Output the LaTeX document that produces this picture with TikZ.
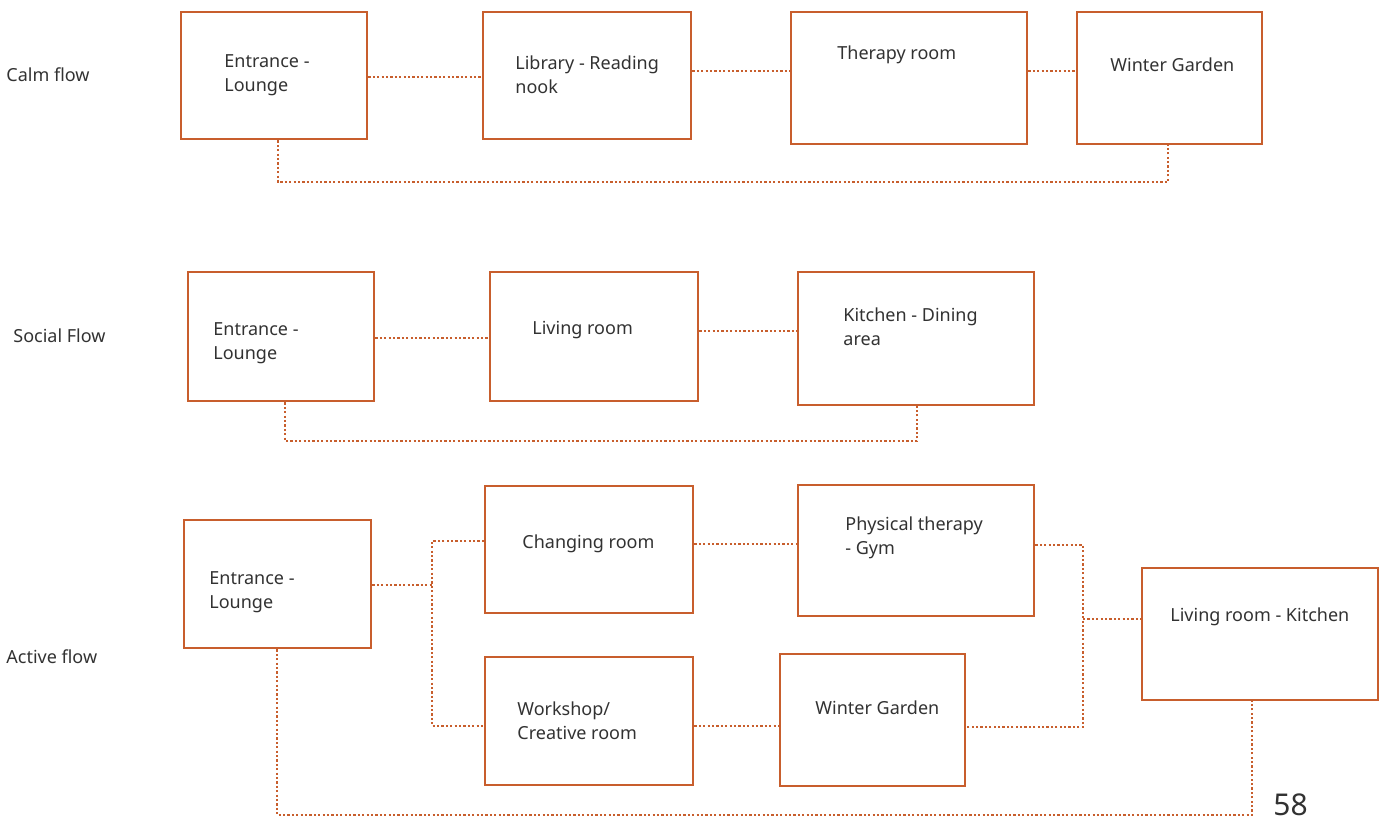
\documentclass[tikz,border=0pt]{standalone}
\usepackage{fontspec}
\setmainfont{Noto Sans}
\definecolor{flowline}{RGB}{200,94,45}
\definecolor{inktext}{RGB}{50,50,50}
\tikzset{
    room/.style n args={2}{draw=flowline,line width=1.2pt,anchor=north west,
        minimum width=#1*0.5pt,minimum height=#2*0.5pt,inner sep=0pt},
    roomtext/.style={anchor=west,align=left,inner sep=0pt,text=inktext,
        font=\fontsize{9pt}{12pt}\selectfont},
    flowlabel/.style={roomtext},
    link/.style={draw=flowline,line width=1.3pt,dash pattern=on 1.1pt off 1.1pt}
}
\begin{document}
\begin{tikzpicture}[x=0.5pt,y=-0.5pt]
    \useasboundingbox (0,0) rectangle (1386,817);
    % calm flow
    \node[flowlabel] (calm) at (6,75) {Calm flow};
    \node[room={186}{127}] (c1) at (180,11) {};
    \node[room={208}{127}] (c2) at (482,11) {};
    \node[room={236}{132}] (c3) at (790,11) {};
    \node[room={185}{132}] (c4) at (1076,11) {};
    \node[roomtext] (c1t) at (224,75) {Entrance -\\Lounge};
    \node[roomtext] (c2t) at (515,75) {Library - Reading\\nook};
    \node[roomtext] (c3t) at (837,55) {Therapy room};
    \node[roomtext] (c4t) at (1110,65) {Winter Garden};
    \coordinate (cbot) at (1168,182);
    \draw[link] (c1.east |- 0,77) -- (c2.west |- 0,77);
    \draw[link] (c2.east |- 0,71) -- (c3.west |- 0,71);
    \draw[link] (c3.east |- 0,71) -- (c4.west |- 0,71);
    \draw[link] (c1.south -| 278,0) |- (cbot) -- (c4.south -| cbot);
    % social flow
    \node[flowlabel] (social) at (13,336) {Social Flow};
    \node[room={186}{129}] (s1) at (187,271) {};
    \node[room={208}{129}] (s2) at (489,271) {};
    \node[room={236}{133}] (s3) at (797,271) {};
    \node[roomtext] (s1t) at (213,343) {Entrance -\\Lounge};
    \node[roomtext] (s2t) at (532,330) {Living room};
    \node[roomtext] (s3t) at (843,327) {Kitchen - Dining\\area};
    \coordinate (sbot) at (917,441);
    \draw[link] (s1.east |- 0,338) -- (s2.west |- 0,338);
    \draw[link] (s2.east |- 0,331) -- (s3.west |- 0,331);
    \draw[link] (s1.south -| 285,0) |- (sbot) -- (s3.south -| sbot);
    % active flow
    \node[flowlabel] (active) at (6,657) {Active flow};
    \node[room={187}{128}] (a1) at (183,519) {};
    \node[room={208}{127}] (a2) at (484,485) {};
    \node[room={236}{131}] (a3) at (797,484) {};
    \node[room={208}{128}] (a4) at (484,656) {};
    \node[room={185}{132}] (a5) at (779,653) {};
    \node[room={236}{132}] (a6) at (1141,567) {};
    \node[roomtext] (a1t) at (209,592) {Entrance -\\Lounge};
    \node[roomtext] (a2t) at (522,544) {Changing room};
    \node[roomtext] (a3t) at (845,538) {Physical therapy\\- Gym};
    \node[roomtext] (a4t) at (517,721) {Workshop/\\Creative room};
    \node[roomtext] (a5t) at (815,708) {Winter Garden};
    \node[roomtext] (a6t) at (1170,617) {Living room - Kitchen};
    \coordinate (aj) at (432,585);
    \coordinate (bj) at (1083,619);
    \coordinate (abot) at (1252,815);
    \draw[link] (a1.east |- aj) -- (aj);
    \draw[link] (a2.west |- 0,541) -| (aj) |- (a4.west |- 0,726);
    \draw[link] (a2.east |- 0,544) -- (a3.west |- 0,544);
    \draw[link] (a4.east |- 0,726) -- (a5.west |- 0,726);
    \draw[link] (a3.east |- 0,545) -| (bj) |- (a5.east |- 0,727);
    \draw[link] (bj) -- (a6.west |- bj);
    \draw[link] (a1.south -| 277,0) |- (abot) -- (a6.south -| abot);
    \node[anchor=base west,inner sep=0pt,text=inktext,
        font=\fontsize{15pt}{17pt}\selectfont] (pagenum) at (1273,815) {58};
\end{tikzpicture}
\end{document}
